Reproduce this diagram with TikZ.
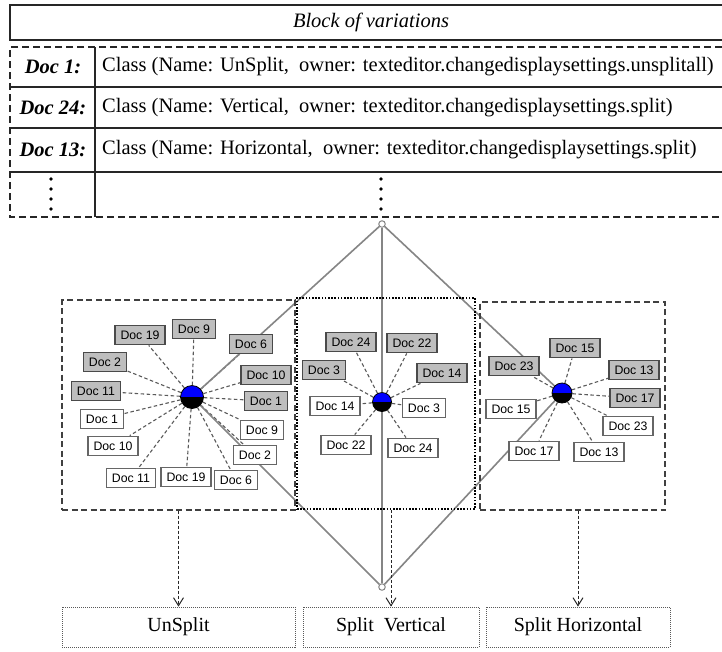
\documentclass[tikz,border=0pt]{standalone}
\usepackage{fontspec}
\setmainfont{Liberation Serif}
\setsansfont{Liberation Sans}
\usetikzlibrary{arrows.meta}
\definecolor{docfill}{HTML}{BEBEBE}
\definecolor{docedge}{HTML}{4A4A4A}
\definecolor{wedge}{HTML}{666666}
\definecolor{spokec}{HTML}{5A5A5A}
\definecolor{diamc}{HTML}{858585}
\definecolor{hubblue}{HTML}{0000FF}
\definecolor{tabc}{HTML}{262626}
\pgfdeclarelayer{bg}
\pgfsetlayers{bg,main}
\tikzset{
  tabline/.style={draw=tabc, line width=1.1pt},
  tabdash/.style={draw=tabc, line width=1.1pt, dash pattern=on 7pt off 4pt},
  rowtext/.style={inner sep=0pt, anchor=west, font=\fontsize{20.5}{22}\selectfont},
  doclab/.style={inner sep=0pt, font=\fontsize{20.5}{22}\selectfont\bfseries\itshape},
  docbox/.style={rectangle, inner xsep=5.5pt, inner ysep=0pt, minimum height=19.5pt,
    line width=1.3pt, font=\sffamily\fontsize{12.3}{12}\selectfont},
  docg/.style={docbox, fill=docfill, draw=docedge},
  docw/.style={docbox, fill=white, draw=wedge},
  spoke/.style={draw=spokec, line width=1.1pt, dash pattern=on 3.5pt off 2.5pt},
  hub/.style={circle, draw=black, line width=0.8pt, inner sep=0pt,
    path picture={
      \fill[hubblue] (path picture bounding box.west) rectangle (path picture bounding box.north east);
      \fill[black] (path picture bounding box.west) rectangle (path picture bounding box.south east);
    }},
  vertex/.style={circle, draw=diamc, fill=white, line width=1pt, inner sep=0pt, minimum size=6.5pt},
  diam/.style={draw=diamc, line width=1.6pt},
  groupbox/.style={rectangle, draw=black!75, line width=1.2pt, dash pattern=on 6pt off 3.5pt, inner sep=0pt},
  dotbox/.style={rectangle, draw=black, line width=1.8pt, dash pattern=on 1.6pt off 1.6pt, inner sep=0pt},
  outbox/.style={rectangle, draw=black!65, line width=0.8pt, dash pattern=on 1pt off 1pt,
    inner sep=0pt, minimum height=40pt, font=\fontsize{20}{22}\selectfont},
  flow/.style={draw=black!85, line width=1pt, dash pattern=on 3pt off 2pt,
    -{Straight Barb[length=8pt,width=10pt,line width=1pt]}},
}
\begin{document}
\begin{tikzpicture}[x=1pt,y=-1pt]
\useasboundingbox (0,0) rectangle (722,651);
\begin{pgfonlayer}{bg}
  \fill[white] (0,0) rectangle (722,651);
\end{pgfonlayer}

% ---- block of variations table ----
\draw[tabline] (722,5) -- (10,5) -- (10,40) -- (722,40);
\node[inner sep=0pt, font=\fontsize{20.5}{22}\selectfont\itshape] (title) at (371,22) {Block of variations};
\draw[tabdash] (722,47) -- (10,47) -- (10,217) -- (722,217);
\draw[tabline] (10,87) -- (722,87);
\draw[tabline] (10,128) -- (722,128);
\draw[tabline] (10,172) -- (722,172);
\draw[tabline] (95,47) -- (95,217);

\node[doclab] (k1) at (53,67) {Doc 1:};
\node[doclab] (k24) at (53,108) {Doc 24:};
\node[doclab] (k13) at (53,150) {Doc 13:};
\node[rowtext] (r1) at (102,67) {Class (Name: UnSplit,\ \ owner: texteditor.changedisplaysettings.unsplitall)};
\node[rowtext] (r24) at (102,108) {Class (Name: Vertical,\ \ owner: texteditor.changedisplaysettings.split)};
\node[rowtext] (r13) at (102,150) {Class (Name: Horizontal,\ \ owner: texteditor.changedisplaysettings.split)};

\foreach \y in {179,189,199,209} {
  \fill (51,\y) circle (1.9);
  \fill (381,\y) circle (1.9);
}

% ---- grouping frames ----
\node[groupbox, minimum width=233pt, minimum height=210pt] (lbox) at (178.5,405) {};
\node[dotbox, minimum width=178pt, minimum height=211pt] (vbox) at (386,403.5) {};
\node[groupbox, minimum width=185pt, minimum height=208pt] (hbox) at (572.5,406) {};

% ---- hubs and joints ----
\node[vertex] (tv) at (382,224) {};
\node[vertex] (bv) at (382,587) {};
\node[hub, minimum size=23pt] (h1) at (192,397) {};
\node[hub, minimum size=19pt] (h2) at (382,402) {};
\node[hub, minimum size=20pt] (h3) at (562,393) {};

% ---- left cluster ----
\node[docg] (a1) at (140,335) {Doc 19};
\node[docg] (a2) at (194,329) {Doc 9};
\node[docg] (a3) at (251,344) {Doc 6};
\node[docg] (a4) at (105,362) {Doc 2};
\node[docg] (a5) at (266,375) {Doc 10};
\node[docg] (a6) at (96,391) {Doc 11};
\node[docg] (a7) at (266,401) {Doc 1};
\node[docw] (b1) at (102,419) {Doc 1};
\node[docw] (b2) at (262,430) {Doc 9};
\node[docw] (b3) at (113,446) {Doc 10};
\node[docw] (b4) at (255,455) {Doc 2};
\node[docw] (b5) at (131,478) {Doc 11};
\node[docw] (b6) at (186,477) {Doc 19};
\node[docw] (b7) at (236,480) {Doc 6};

% ---- middle cluster ----
\node[docg] (c1) at (351,342) {Doc 24};
\node[docg] (c2) at (412,343) {Doc 22};
\node[docg] (c3) at (324,370) {Doc 3};
\node[docg] (c4) at (442,373) {Doc 14};
\node[docw] (d1) at (335,406) {Doc 14};
\node[docw] (d2) at (424,408) {Doc 3};
\node[docw] (d3) at (346,445) {Doc 22};
\node[docw] (d4) at (413,448) {Doc 24};

% ---- right cluster ----
\node[docg] (e1) at (575,348) {Doc 15};
\node[docg] (e2) at (514,366) {Doc 23};
\node[docg] (e3) at (634,370) {Doc 13};
\node[docg] (e4) at (635,398) {Doc 17};
\node[docw] (f1) at (511,409) {Doc 15};
\node[docw] (f2) at (628,426) {Doc 23};
\node[docw] (f3) at (534,451) {Doc 17};
\node[docw] (f4) at (599,452) {Doc 13};

% ---- connectors behind the boxes ----
\begin{pgfonlayer}{bg}
  \foreach \n in {a1,a2,a3,a4,a5,a6,a7,b1,b2,b3,b4,b5,b6,b7}
    \draw[spoke] (h1) -- (\n);
  \foreach \n in {c1,c2,c3,c4,d1,d2,d3,d4}
    \draw[spoke] (h2) -- (\n);
  \foreach \n in {e1,e2,e3,e4,f1,f2,f3,f4}
    \draw[spoke] (h3) -- (\n);
  \draw[diam] (tv) -- (h1) -- (bv);
  \draw[diam] (tv) -- (h2) -- (bv);
  \draw[diam] (tv) -- (h3) -- (bv);
\end{pgfonlayer}

% ---- resulting classes ----
\node[outbox, minimum width=233pt] (unsplit) at (178.5,627) {UnSplit};
\node[outbox, minimum width=176pt] (vsplit) at (391,627) {Split\ \ Vertical};
\node[outbox, minimum width=184pt] (hsplit) at (578,627) {Split Horizontal};

\draw[flow] (lbox.south) -- (unsplit.north);
\draw[flow] (vsplit.north |- vbox.south) -- (vsplit.north);
\draw[flow] (hsplit.north |- hbox.south) -- (hsplit.north);
\end{tikzpicture}
\end{document}
